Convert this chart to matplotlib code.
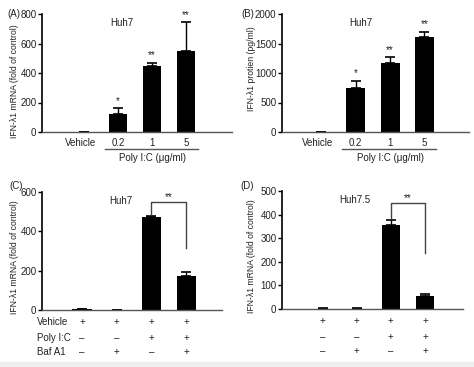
import numpy as np
import matplotlib.pyplot as plt

plt.rcParams['font.family'] = ['Liberation Sans', 'DejaVu Sans']

# panel A: IFN-l1 mRNA, poly I:C dose
a_vals = [2, 125, 450, 550]
a_err = [1, 35, 20, 195]
a_stars = ['', '*', '**', '**']

# panel B: IFN-l1 protein
b_vals = [0, 750, 1170, 1610]
b_err = [0, 120, 100, 90]
b_stars = ['', '*', '**', '**']

dose_labels = ['Vehicle', '0.2', '1', '5']

# panel C: Huh7 with Baf A1
c_vals = [3, 1, 475, 172]
c_err = [1, 0.5, 5, 20]

# panel D: Huh7.5 with Baf A1
d_vals = [2, 2, 357, 57]
d_err = [0.5, 0.5, 20, 7]

row_names = ['Vehicle', 'Poly I:C', 'Baf A1']
vehicle_row = ['+', '+', '+', '+']
polyic_row = ['\u2013', '\u2013', '+', '+']
bafa1_row = ['\u2013', '+', '\u2013', '+']

W, H = 474, 367
fig = plt.figure(figsize=(W / 100, H / 100), dpi=100)
TXT = '#222222'


def make_ax(x0, x1, y0, y1):
    return fig.add_axes([x0 / W, 1 - y1 / H, (x1 - x0) / W, (y1 - y0) / H])


def style(ax, ymax, step, xlim):
    ax.set_ylim(0, ymax)
    ax.set_xlim(*xlim)
    ax.set_yticks(np.arange(0, ymax + 1, step))
    ax.tick_params(axis='y', direction='out', length=3, width=1, labelsize=7,
                   colors='black', labelcolor=TXT, pad=1)
    ax.set_xticks([])
    for s in ['top', 'right']:
        ax.spines[s].set_visible(False)
    ax.spines['left'].set_linewidth(1.2)
    ax.spines['bottom'].set_color('#555555')
    ax.spines['bottom'].set_linewidth(1)


def bars(ax, vals, err, stars=None, ymax=1):
    x = np.arange(len(vals))
    ax.bar(x, vals, width=0.55, color='black')
    ax.errorbar(x, vals, yerr=[np.zeros(len(err)), err], fmt='none',
                ecolor='black', elinewidth=1, capsize=3.8, capthick=1.2)
    if stars:
        for xi, v, e, s in zip(x, vals, err, stars):
            if s:
                ax.text(xi, v + e + ymax * 0.02, s, ha='center', va='bottom',
                        fontsize=7, color=TXT)


def dose_axis(ax):
    tr = ax.get_xaxis_transform()
    for i, lab in enumerate(dose_labels):
        xi = i - 0.1 if i == 0 else i
        ax.text(xi, -0.05, lab, transform=tr, ha='center', va='top', fontsize=7, color=TXT)
    ax.plot([0.6, 3.35], [-0.14, -0.14], transform=tr, color='#555555', lw=1, clip_on=False)
    ax.text(2, -0.175, 'Poly I:C (\u03bcg/ml)', transform=tr, ha='center', va='top',
            fontsize=7, color=TXT)


def sign_rows(ax, names):
    tr = ax.get_xaxis_transform()
    rows = [vehicle_row, polyic_row, bafa1_row]
    ys = [-0.1, -0.235, -0.355]
    for r, y in zip(rows, ys):
        for i, s in enumerate(r):
            ax.text(i, y, s, transform=tr, ha='center', va='center', fontsize=7, color=TXT)
    if names:
        for n, y in zip(row_names, ys):
            ax.text(-1.3, y, n, transform=tr, ha='left', va='center', fontsize=7, color=TXT)


def bracket(ax, x0, x1, ytop, yl, yr):
    ax.plot([x0, x0, x1, x1], [yl, ytop, ytop, yr], color='#444444', lw=1)
    ax.text((x0 + x1) / 2, ytop, '**', ha='center', va='bottom', fontsize=7, color=TXT)


# A
axA = make_ax(42, 232, 14, 132)
style(axA, 800, 200, (-1.24, 4.35))
bars(axA, a_vals, a_err, a_stars, 800)
dose_axis(axA)
axA.set_ylabel('IFN-\u03bb1 mRNA (fold of control)', fontsize=6.2, color=TXT, labelpad=2)
axA.yaxis.set_label_coords(-0.12, 0.43)
axA.text(0.42, 0.97, 'Huh7', transform=axA.transAxes, ha='center', va='top', fontsize=7, color=TXT)
fig.text(7 / W, 1 - 14 / H, '(A)', fontsize=7, color=TXT, va='center')

# B
axB = make_ax(282, 469, 14, 132)
style(axB, 2000, 500, (-1.15, 4.3))
bars(axB, b_vals, b_err, b_stars, 2000)
dose_axis(axB)
axB.set_ylabel('IFN-\u03bb1 protien (pg/ml)', fontsize=6.2, color=TXT, labelpad=2)
axB.yaxis.set_label_coords(-0.14, 0.54)
axB.text(0.42, 0.97, 'Huh7', transform=axB.transAxes, ha='center', va='top', fontsize=7, color=TXT)
fig.text(241 / W, 1 - 14 / H, '(B)', fontsize=7, color=TXT, va='center')

# C
axC = make_ax(42, 222, 192, 310)
style(axC, 600, 200, (-1.15, 4.03))
bars(axC, c_vals, c_err)
bracket(axC, 2, 3, 550, 488, 315)
sign_rows(axC, True)
axC.set_ylabel('IFN-\u03bb1 mRNA (fold of control)', fontsize=6.2, color=TXT, labelpad=2)
axC.yaxis.set_label_coords(-0.128, 0.45)
axC.text(0.44, 0.97, 'Huh7', transform=axC.transAxes, ha='center', va='top', fontsize=7, color=TXT)
fig.text(9 / W, 1 - 186 / H, '(C)', fontsize=7, color=TXT, va='center')

# D
axD = make_ax(282, 463, 191, 309)
style(axD, 500, 100, (-1.2, 4.12))
bars(axD, d_vals, d_err)
bracket(axD, 2, 3, 450, 385, 237)
sign_rows(axD, False)
axD.set_ylabel('IFN-\u03bb1 mRNA (fold of control)', fontsize=6.2, color=TXT, labelpad=2)
axD.yaxis.set_label_coords(-0.144, 0.45)
axD.text(0.40, 0.97, 'Huh7.5', transform=axD.transAxes, ha='center', va='top', fontsize=7, color=TXT)
fig.text(240 / W, 1 - 186 / H, '(D)', fontsize=7, color=TXT, va='center')

# faint scan border at the bottom
fig.patches.append(plt.Rectangle((0, 0), 1, 5 / H, transform=fig.transFigure,
                                 color='#eeeeee', zorder=0))

fig.savefig('out.png', dpi=100)
